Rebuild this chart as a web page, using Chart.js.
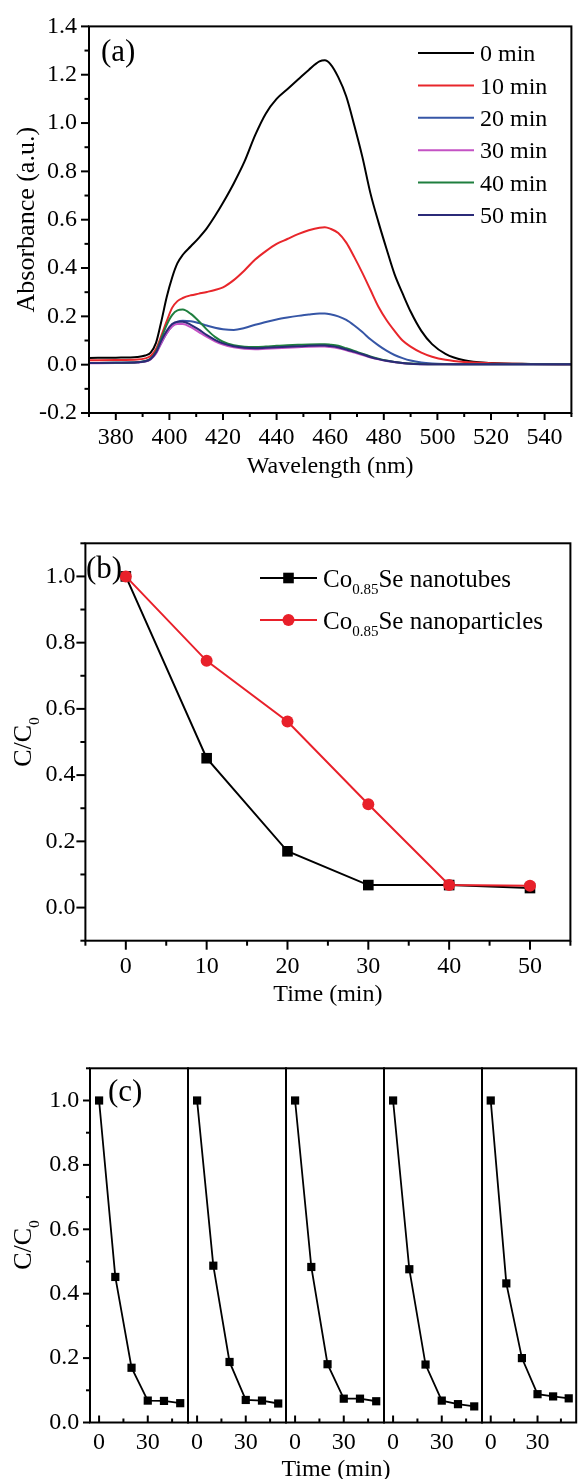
<!DOCTYPE html>
<html><head><meta charset="utf-8">
<script src="https://cdn.jsdelivr.net/npm/chart.js"></script>
<style>
html,body{margin:0;padding:0;background:#fff}
body{width:582px;height:1479px;position:relative;overflow:hidden}
canvas{position:absolute;left:0}
</style></head><body>
<canvas id="ca" width="582" height="490" style="top:0px"></canvas>
<canvas id="cb" width="582" height="520" style="top:500px"></canvas>
<canvas id="cc0" width="582" height="439" style="top:1040px"></canvas>
<canvas id="cc1" width="582" height="439" style="top:1040px"></canvas>
<canvas id="cc2" width="582" height="439" style="top:1040px"></canvas>
<canvas id="cc3" width="582" height="439" style="top:1040px"></canvas>
<canvas id="cc4" width="582" height="439" style="top:1040px"></canvas>
<script>
// ---------------- Panel (a): UV-vis spectra ----------------
const wavelengths = [370,380,388,391,393,395,397,399,401,403,405,408,411,414,417,420,424,428,432,436,440,444,448,452,456,458,460,463,466,469,472,475,478,481,484,487,490,494,498,503,510,520,535,550];
const abs0min  = [0.028,0.029,0.032,0.038,0.05,0.09,0.18,0.28,0.36,0.42,0.455,0.49,0.525,0.565,0.615,0.67,0.75,0.84,0.95,1.04,1.10,1.14,1.18,1.22,1.255,1.26,1.245,1.19,1.11,0.99,0.86,0.71,0.59,0.48,0.375,0.295,0.22,0.14,0.085,0.045,0.018,0.007,0.003,0.002];
const abs10min = [0.018,0.019,0.021,0.026,0.036,0.065,0.12,0.18,0.235,0.263,0.276,0.287,0.294,0.301,0.309,0.32,0.35,0.39,0.435,0.47,0.50,0.52,0.54,0.556,0.567,0.569,0.563,0.545,0.505,0.445,0.38,0.31,0.24,0.185,0.14,0.10,0.075,0.05,0.033,0.02,0.011,0.006,0.003,0.002];
const abs20min = [0.007,0.008,0.01,0.014,0.024,0.05,0.09,0.13,0.16,0.177,0.182,0.18,0.172,0.162,0.153,0.147,0.144,0.152,0.165,0.177,0.187,0.195,0.202,0.208,0.212,0.212,0.209,0.2,0.185,0.162,0.135,0.105,0.08,0.058,0.04,0.027,0.017,0.009,0.005,0.003,0.002,0.002,0.002,0.002];
const abs30min = [0.006,0.007,0.009,0.013,0.022,0.045,0.09,0.13,0.158,0.168,0.168,0.155,0.135,0.115,0.097,0.083,0.072,0.066,0.064,0.066,0.068,0.07,0.072,0.074,0.075,0.075,0.073,0.068,0.06,0.05,0.04,0.03,0.022,0.015,0.01,0.006,0.004,0.002,0.002,0.002,0.002,0.002,0.002,0.002];
const abs40min = [0.007,0.008,0.01,0.015,0.025,0.055,0.11,0.165,0.205,0.225,0.228,0.21,0.18,0.145,0.115,0.095,0.08,0.074,0.073,0.075,0.078,0.08,0.082,0.084,0.085,0.085,0.083,0.078,0.068,0.057,0.045,0.034,0.025,0.017,0.011,0.007,0.005,0.003,0.002,0.002,0.002,0.002,0.002,0.002];
const abs50min = [0.007,0.008,0.01,0.014,0.024,0.05,0.10,0.14,0.168,0.178,0.178,0.165,0.145,0.122,0.103,0.088,0.076,0.07,0.068,0.07,0.072,0.074,0.076,0.078,0.079,0.079,0.077,0.072,0.063,0.053,0.043,0.032,0.023,0.016,0.011,0.007,0.004,0.002,0.002,0.002,0.002,0.002,0.002,0.002];
const spectraLabels = ['0 min','10 min','20 min','30 min','40 min','50 min'];
const spectraColors = ['#000000','#e8262b','#3656a6','#c452c4','#1f7f3f','#2b2a78'];
const xTitleA = 'Wavelength (nm)';
const yTitleA = 'Absorbance (a.u.)';

// ---------------- Panel (b): C/C0 vs time ----------------
const timesB = [0,10,20,30,40,50];
const nanotubes = [1.0,0.451,0.17,0.068,0.068,0.059];
const nanoparticles = [1.0,0.745,0.562,0.312,0.068,0.066];
const seriesLabelsB = ['Co0.85Se nanotubes','Co0.85Se nanoparticles'];
const xTitleB = 'Time (min)';
const yTitleB = 'C/C0';

// ---------------- Panel (c): recycling ----------------
const timesC = [0,10,20,30,40,50];
const cycle1 = [1.0,0.452,0.17,0.068,0.067,0.06];
const cycle2 = [1.0,0.487,0.188,0.07,0.068,0.059];
const cycle3 = [1.0,0.483,0.181,0.074,0.074,0.066];
const cycle4 = [1.0,0.476,0.18,0.068,0.057,0.05];
const cycle5 = [1.0,0.432,0.2,0.088,0.081,0.075];
const xTitleC = 'Time (min)';
const yTitleC = 'C/C0';

// ---------------- helpers ----------------
const FAM = "'Liberation Serif', 'Times New Roman', serif";
const fnt = s => ({family: FAM, size: s, weight: 'normal', lineHeight: 1.2});
Chart.defaults.font.family = FAM;
Chart.defaults.color = '#000';

function richSegs(s) {
  const m = s.match(/^([A-Za-z\/]*[A-Za-z])(\d+(?:\.\d+)?)(.*)$/);
  return m ? [{t: m[1]}, {t: m[2], sub: true}, {t: m[3]}] : [{t: s}];
}
function drawRich(ctx, segs, x, y, size, align) {
  const sub = size * 0.6;
  const w = segs.map(s => { ctx.font = (s.sub ? sub : size) + 'px ' + FAM; return ctx.measureText(s.t).width; });
  const tot = w.reduce((a, b) => a + b, 0);
  let cx = align === 'center' ? x - tot / 2 : (align === 'right' ? x - tot : x);
  ctx.textAlign = 'left'; ctx.textBaseline = 'alphabetic';
  segs.forEach((s, i) => {
    ctx.font = (s.sub ? sub : size) + 'px ' + FAM;
    ctx.fillText(s.t, cx, y + (s.sub ? size * 0.3 : 0));
    cx += w[i];
  });
}
function drawMarker(ctx, style, x, y, r, color) {
  ctx.save(); ctx.fillStyle = color; ctx.beginPath();
  if (style === 'rect') { const h = r * Math.SQRT1_2; ctx.rect(x - h, y - h, 2 * h, 2 * h); }
  else { ctx.arc(x, y, r, 0, Math.PI * 2); }
  ctx.fill(); ctx.restore();
}

const axisDeco = {
  id: 'axisDeco',
  afterDraw(chart, args, o) {
    if (!o || !o.enabled) return;
    const ctx = chart.ctx, a = chart.chartArea;
    ctx.save();
    ctx.strokeStyle = '#000'; ctx.lineWidth = 2;
    ['x', 'y'].forEach(id => {
      const spec = o[id], s = chart.scales[id];
      if (!spec || !s) return;
      s.ticks.forEach(t => {
        const major = t.label !== '' && t.label !== undefined && t.label !== null;
        const len = major ? spec.major : spec.minor;
        const p = s.getPixelForValue(t.value);
        const sg = spec.dir === 'in' ? -1 : 1;
        ctx.beginPath();
        if (id === 'x') { ctx.moveTo(p, a.bottom); ctx.lineTo(p, a.bottom + sg * len); }
        else { ctx.moveTo(a.left, p); ctx.lineTo(a.left - sg * len, p); }
        ctx.stroke();
      });
    });
    ctx.strokeRect(a.left, a.top, a.right - a.left, a.bottom - a.top);
    ctx.restore();
  }
};
const customLegend = {
  id: 'customLegend',
  afterDraw(chart, args, o) {
    if (!o || !o.display) return;
    const ctx = chart.ctx;
    ctx.save();
    chart.data.datasets.forEach((ds, i) => {
      const y = o.y + i * o.dy;
      ctx.strokeStyle = ds.borderColor; ctx.lineWidth = ds.borderWidth;
      ctx.beginPath(); ctx.moveTo(o.x, y); ctx.lineTo(o.x + o.len, y); ctx.stroke();
      if (o.markers) drawMarker(ctx, ds.pointStyle, o.x + o.len / 2, y, ds.pointRadius, ds.pointBackgroundColor);
      ctx.fillStyle = '#000';
      drawRich(ctx, richSegs(ds.label), o.x + o.len + o.gap, y + o.size * 0.34, o.size, 'left');
    });
    ctx.restore();
  }
};
const extraText = {
  id: 'extraText',
  afterDraw(chart, args, o) {
    if (!o || !o.items) return;
    const ctx = chart.ctx;
    o.items.forEach(it => {
      ctx.save(); ctx.fillStyle = '#000';
      ctx.translate(it.x, it.y);
      if (it.rotate) ctx.rotate(it.rotate);
      drawRich(ctx, it.plain ? [{t: it.text}] : richSegs(it.text), 0, it.size * 0.34, it.size, it.align || 'left');
      ctx.restore();
    });
  }
};
Chart.register(axisDeco, customLegend, extraText);

const label02 = v => { const k = Math.round(v * 10); return (k % 2 === 0) ? (k / 10).toFixed(1) : ''; };
const baseOpts = {responsive: false, animation: false, devicePixelRatio: 1, events: []};

// ---------------- Chart (a) ----------------
const spectra = [abs0min, abs10min, abs20min, abs30min, abs40min, abs50min];
new Chart(document.getElementById('ca'), {
  type: 'line',
  data: {datasets: spectra.map((d, i) => ({
    label: spectraLabels[i],
    data: wavelengths.map((w, j) => ({x: w, y: d[j]})),
    borderColor: spectraColors[i], borderWidth: 2, pointRadius: 0,
    cubicInterpolationMode: 'monotone', fill: false, order: spectra.length - i, clip: false
  }))},
  options: Object.assign({}, baseOpts, {
    layout: {padding: {top: 22, right: 2, left: 0, bottom: 0}},
    plugins: {
      legend: {display: false}, tooltip: {enabled: false},
      customLegend: {display: true, x: 418, y: 53, dy: 32.4, len: 56, gap: 6, size: 24},
      extraText: {items: [{text: '(a)', plain: true, x: 101, y: 50, size: 31}]},
      axisDeco: {enabled: true, x: {major: 7, minor: 4, dir: 'out'}, y: {major: 8, minor: 4.5, dir: 'out'}}
    },
    scales: {
      x: {type: 'linear', min: 370, max: 550,
        grid: {display: false, drawTicks: false}, border: {display: false},
        ticks: {stepSize: 10, precision: 0, autoSkip: false, maxRotation: 0, padding: 10.6, font: fnt(24),
          callback: v => (v >= 380 && v <= 540 && (v - 380) % 20 === 0) ? String(v) : ''},
        title: {display: true, text: xTitleA, font: fnt(24), padding: {top: 0, bottom: 8.6}},
        afterFit: s => { s.height = 77; }},
      y: {type: 'linear', min: -0.2, max: 1.4,
        grid: {display: false, drawTicks: false}, border: {display: false},
        ticks: {stepSize: 0.1, precision: 1, autoSkip: false, padding: 12, font: fnt(24), callback: label02},
        title: {display: true, text: yTitleA, font: fnt(26), padding: {top: 11.5, bottom: 0}},
        afterFit: s => { s.width = 89; }}
    }
  })
});

// ---------------- Chart (b) ----------------
new Chart(document.getElementById('cb'), {
  type: 'line',
  data: {datasets: [
    {label: seriesLabelsB[0], data: timesB.map((t, i) => ({x: t, y: nanotubes[i]})),
     borderColor: '#000', backgroundColor: '#000', pointBackgroundColor: '#000', pointBorderColor: '#000', pointBorderWidth: 0,
     pointStyle: 'rect', pointRadius: 7.5, borderWidth: 2, order: 2, clip: false},
    {label: seriesLabelsB[1], data: timesB.map((t, i) => ({x: t, y: nanoparticles[i]})),
     borderColor: '#e8202a', backgroundColor: '#e8202a', pointBackgroundColor: '#e8202a', pointBorderColor: '#e8202a', pointBorderWidth: 0,
     pointStyle: 'circle', pointRadius: 6, borderWidth: 2, order: 1, clip: false}
  ]},
  options: Object.assign({}, baseOpts, {
    layout: {padding: {top: 43.3, right: 2, left: 0, bottom: 0}},
    plugins: {
      legend: {display: false}, tooltip: {enabled: false},
      customLegend: {display: true, markers: true, x: 260, y: 78, dy: 42, len: 57, gap: 6, size: 25},
      extraText: {items: [
        {text: '(b)', plain: true, x: 86, y: 67, size: 31},
        {text: yTitleB, x: 22, y: 242, size: 26, align: 'center', rotate: -Math.PI / 2}
      ]},
      axisDeco: {enabled: true, x: {major: 9, minor: 5, dir: 'out'}, y: {major: 9, minor: 5, dir: 'out'}}
    },
    scales: {
      x: {type: 'linear', min: -5, max: 55,
        grid: {display: false, drawTicks: false}, border: {display: false},
        ticks: {stepSize: 5, precision: 0, autoSkip: false, maxRotation: 0, padding: 11.6, font: fnt(24),
          callback: v => (v >= 0 && v <= 50 && v % 10 === 0) ? String(v) : ''},
        title: {display: true, text: xTitleB, font: fnt(24), padding: {top: 0, bottom: 10.6}},
        afterFit: s => { s.height = 79.3; }},
      y: {type: 'linear', min: -0.1, max: 1.1,
        grid: {display: false, drawTicks: false}, border: {display: false},
        ticks: {stepSize: 0.1, precision: 1, autoSkip: false, padding: 10, font: fnt(24),
          callback: v => { const k = Math.round(v * 10); return (k >= 0 && k <= 10 && k % 2 === 0) ? (k / 10).toFixed(1) : ''; }},
        afterFit: s => { s.width = 85.4; }}
    }
  })
});

// ---------------- Charts (c) ----------------
const cycles = [cycle1, cycle2, cycle3, cycle4, cycle5];
const subLeft = 90, subW = 98;
cycles.forEach((cyc, i) => {
  const first = i === 0;
  const left = first ? 0 : subLeft + subW * i;
  const right = 582 - (subLeft + subW * (i + 1));
  const plugins = {
    legend: {display: false}, tooltip: {enabled: false},
    axisDeco: {enabled: true, x: {major: 7, minor: 4, dir: 'in'}}
  };
  if (first) {
    plugins.axisDeco.y = {major: 7, minor: 4, dir: 'out'};
    plugins.extraText = {items: [
      {text: '(c)', plain: true, x: 108, y: 50, size: 31},
      {text: yTitleC, x: 22, y: 205, size: 26, align: 'center', rotate: -Math.PI / 2},
      {text: xTitleC, plain: true, x: 336, y: 428, size: 24, align: 'center'}
    ]};
  }
  new Chart(document.getElementById('cc' + i), {
    type: 'line',
    data: {datasets: [{label: 'Cycle ' + (i + 1), data: timesC.map((t, j) => ({x: t, y: cyc[j]})),
      borderColor: '#000', pointBackgroundColor: '#000', pointBorderColor: '#000', pointBorderWidth: 0,
      pointStyle: 'rect', pointRadius: 5.8, borderWidth: 1.8, clip: false}]},
    options: Object.assign({}, baseOpts, {
      layout: {padding: {top: 28.3, right: right, left: left, bottom: 0}},
      plugins: plugins,
      scales: {
        x: {type: 'linear', min: -5.6, max: 54.8,
          grid: {display: false, drawTicks: false}, border: {display: false},
          ticks: {stepSize: 15, precision: 0, autoSkip: false, maxRotation: 0, includeBounds: false, padding: 6, font: fnt(24),
            callback: v => (v === 0 || v === 30) ? String(v) : ''},
          afterFit: s => { s.height = 56.5; }},
        y: {type: 'linear', min: 0, max: 1.1, display: first,
          grid: {display: false, drawTicks: false}, border: {display: false},
          ticks: {stepSize: 0.1, precision: 1, autoSkip: false, padding: 10.7, font: fnt(24), callback: label02},
          afterFit: s => { s.width = first ? subLeft : 0; }}
      }
    })
  });
});
</script>
</body></html>
